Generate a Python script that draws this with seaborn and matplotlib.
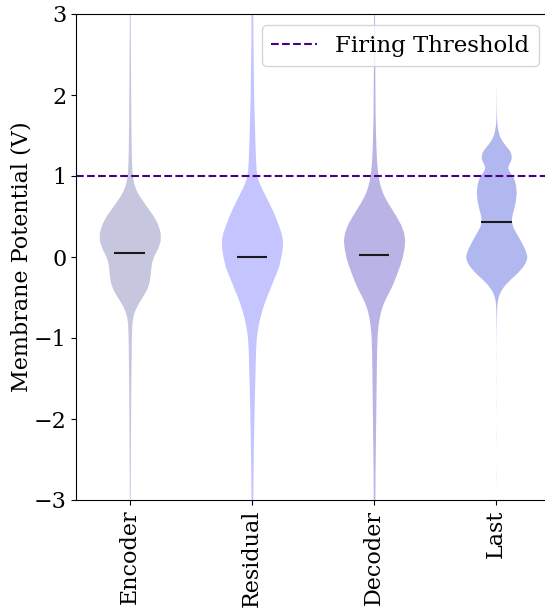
import numpy as np
import pandas as pd
import matplotlib
matplotlib.use("Agg")
import matplotlib.pyplot as plt
import seaborn as sns

plt.rcParams["font.family"] = ["DejaVu Serif"]

categories = ["Encoder", "Residual", "Decoder", "Last"]

# membrane-potential levels (V) at which the violin widths were read
levels = [round(-3.5 + 0.1 * i, 1) for i in range(71)]

# relative violin half-widths at each level
encoder_width = [
    .3, .3, .3, .4, .4, .4, .5, .5, .5, .6,
    .6, .6, .7, .7, .8, .8, .9, .9, 1.0, 1.0,
    1.1, 1.2, 1.3, 1.4, 1.5, 1.6, 1.8, 2.2, 3.5, 7,
    12, 17, 19.5, 20.5, 21, 23, 27.5, 30.5, 30.5, 28,
    24, 18, 12.5, 7, 4, 2.5, 2.0, 1.7, 1.5, 1.4,
    1.3, 1.2, 1.1, 1.0, 1.0, .9, .9, .8, .8, .7,
    .7, .6, .6, .5, .5, .5, .4, .4, .4, .3, .3]
residual_width = [
    .6, .7, .7, .8, .8, .9, 1.0, 1.0, 1.1, 1.2,
    1.3, 1.4, 1.5, 1.7, 1.8, 2.0, 2.1, 2.3, 2.5, 2.7,
    2.9, 3.1, 3.3, 3.5, 3.8, 4.3, 5.3, 6.8, 8.8, 11.2,
    14, 17.5, 20.5, 24, 27, 28.5, 30, 30.5, 29, 26,
    23, 19.5, 15.5, 11.5, 7.5, 4.8, 4.0, 3.6, 3.3, 3.0,
    2.8, 2.6, 2.4, 2.1, 1.9, 1.7, 1.6, 1.5, 1.4, 1.3,
    1.2, 1.1, 1.0, 1.0, .9, .9, .8, .8, .7, .7, .6]
decoder_width = [
    .5, .6, .6, .7, .7, .8, .8, .9, .9, 1.0,
    1.1, 1.2, 1.3, 1.4, 1.5, 1.6, 1.7, 1.8, 1.9, 2.0,
    2.1, 2.2, 2.3, 2.4, 2.6, 2.9, 3.4, 4.3, 5.8, 8,
    11.5, 16, 19.5, 22.5, 25.5, 28, 29.5, 30.5, 29.5, 26.5,
    22, 17, 12, 8, 5.5, 4.0, 3.0, 2.4, 2.0, 1.7,
    1.5, 1.3, 1.1, 1.0, .9, .9, .8, .8, .7, .7,
    .6, .6, .5, .5, .5, .4, .4, .4, .3, .3, .3]
last_width = [
    0, 0, 0, 0, 0, 0, 0, 0, .1, 0,
    0, 0, 0, .1, 0, 0, 0, .1, 0, 0,
    .1, 0, 0, .1, 0, .1, .1, .2, .3, .5,
    1.3, 4.5, 11, 20, 27, 30.5, 27.5, 23.5, 19, 14.5,
    14.5, 17, 18.5, 19.5, 18.5, 16.5, 9, 15, 14.5, 7,
    2.5, 1.0, .3, .2, .1, .1, 0, 0, 0, 0,
    0, 0, 0, 0, 0, 0, 0, 0, 0, 0, 0]

mean_values = [0.05, 0.0, 0.025, 0.43]
threshold = 1.0
colors = ["#c6c6de", "#c4c4fe", "#bab3e6", "#b1b8ef"]

frames = []
for cat, widths in zip(categories, [encoder_width, residual_width, decoder_width, last_width]):
    counts = np.round(np.array(widths) * 10).astype(int)
    frames.append(pd.DataFrame({"layer": cat, "v": np.repeat(levels, counts)}))
df = pd.concat(frames, ignore_index=True)

fig = plt.figure(figsize=(5.45, 6.08), dpi=100)
ax = fig.add_axes([76 / 545, 108 / 608, 474 / 545, 486 / 608])

sns.violinplot(data=df, x="layer", y="v", hue="layer", order=categories,
               hue_order=categories, palette=colors, inner=None,
               density_norm="width", width=0.5, linewidth=0, saturation=1,
               bw_method=lambda k: 0.06 / np.std(k.dataset), cut=2,
               gridsize=800, legend=False, ax=ax)

pos = np.arange(len(categories))
ax.hlines(mean_values, pos - 0.125, pos + 0.125, colors="#1a1a1a", lw=1.5, zorder=3)
ax.axhline(threshold, color="indigo", ls="--", lw=1.5, label="Firing Threshold")
ax.legend(loc="upper right", fontsize=16.5)

ax.set_ylim(-3, 3)
ax.set_xlim(-0.44, 3.44)
ax.set_yticks([-3, -2, -1, 0, 1, 2, 3])
ax.tick_params(axis="both", labelsize=16)
ax.tick_params(axis="x", labelrotation=90)
ax.set_xlabel("")
ax.set_ylabel("Membrane Potential (V)", fontsize=16, labelpad=1)

fig.savefig("out.png", dpi=100)
